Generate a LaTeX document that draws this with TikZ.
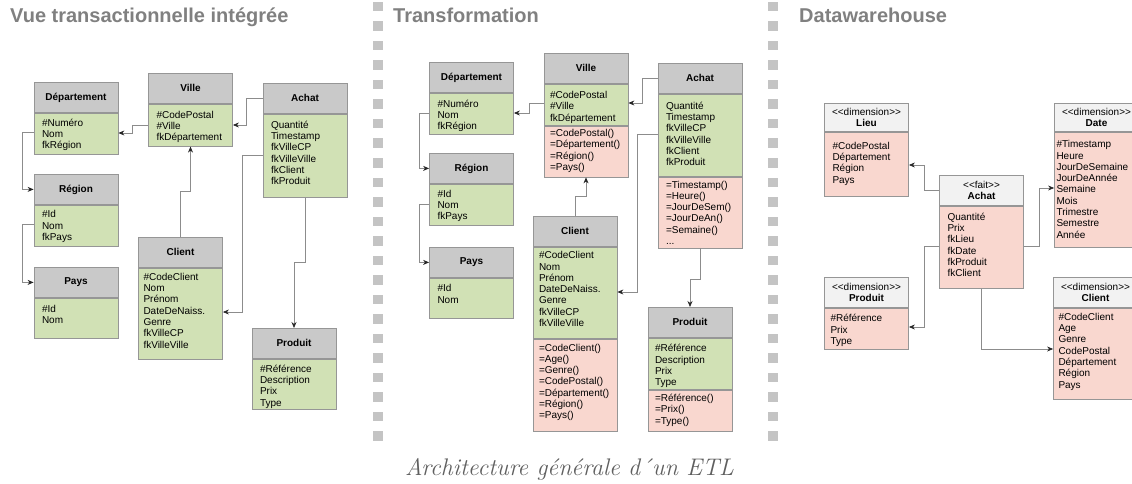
\documentclass[tikz,border=0pt]{standalone}
\usepackage{fontspec}
\newfontfamily\sansfam{Liberation Sans}
\usepackage{tikz}
\usetikzlibrary{arrows.meta, positioning}

\definecolor{hdrgray}{RGB}{201,201,201}
\definecolor{dimhead}{RGB}{242,242,242}
\definecolor{attrgreen}{RGB}{209,225,181}
\definecolor{methpink}{RGB}{249,215,207}
\definecolor{boxline}{RGB}{150,150,150}
\definecolor{linkgray}{RGB}{140,140,140}
\definecolor{sepgray}{RGB}{196,196,196}
\definecolor{titlegray}{RGB}{128,128,128}
\definecolor{captiongray}{RGB}{95,95,95}

\newcommand{\dimtag}[1]{<\kern0pt<#1>\kern0pt>}

\tikzset{
  hdr/.style={draw=boxline, line width=0.8pt, fill=hdrgray, anchor=north, minimum width=84pt, minimum height=30pt, inner sep=0pt, align=center, font=\sansfam\bfseries\fontsize{10}{12}\selectfont},
  dimhdr/.style={hdr, fill=dimhead, font=\sansfam\fontsize{10}{11.7}\selectfont},
  attr/.style={draw=boxline, line width=0.8pt, fill=attrgreen, anchor=north, minimum width=84pt, inner xsep=8pt, inner ysep=0pt, text width=68pt, align=left, text height=13pt, font=\sansfam\fontsize{10}{11.3}\selectfont},
  meth/.style={attr, fill=methpink, text height=11pt},
  link/.style={draw=linkgray, line width=0.7pt, -{Stealth[length=6pt, width=5pt, color=black!85]}},
  heading/.style={anchor=base west, inner sep=0pt, text=titlegray, font=\sansfam\bfseries\fontsize{20}{24}\selectfont},
}

\begin{document}
\begin{tikzpicture}[x=1pt, y=-1pt]
  % Page
  \useasboundingbox (0,0) rectangle (1132,484);
  \clip (0,0) rectangle (1132,484);

  % Separators
  \foreach \k in {0,...,22} {
    \fill[sepgray] (373.25,2+19.5*\k) rectangle ++(9.5,9.5);
    \fill[sepgray] (768.25,2+19.5*\k) rectangle ++(9.5,9.5);
  }

  % Titles
  \node[heading] (titleA) at (10,23) {Vue transactionnelle intégrée};
  \node[heading] (titleB) at (393,23) {Transformation};
  \node[heading] (titleC) at (799,23) {Datawarehouse};

  % Vue transactionnelle
  \node[hdr] (depLh) at (76,82) {Département};
  \node[attr, below=0pt of depLh, text depth=28pt] (depLb) {\#Numéro\\Nom\\fkRégion};
  \node[hdr] (villeLh) at (190.5,73) {Ville};
  \node[attr, below=0pt of villeLh, text height=14pt, text depth=28pt] (villeLb) {\#CodePostal\\\#Ville\\fkDépartement};
  \node[hdr] (achatLh) at (305,83) {Achat};
  \node[attr, below=0pt of achatLh, text height=14pt, text depth=69pt] (achatLb) {Quantité\\Timestamp\\fkVilleCP\\fkVilleVille\\fkClient\\fkProduit};
  \node[hdr] (regLh) at (76,174) {Région};
  \node[attr, below=0pt of regLh, text height=12.5pt, text depth=28.5pt] (regLb) {\#Id\\Nom\\fkPays};
  \node[hdr] (paysLh) at (76,267) {Pays};
  \node[attr, below=0pt of paysLh, text height=14pt, text depth=26pt] (paysLb) {\#Id\\Nom};
  \node[hdr] (cliLh) at (180.5,237) {Client};
  \node[attr, below=0pt of cliLh, inner xsep=5pt, text width=74pt, text height=12pt, text depth=79pt] (cliLb) {\#CodeClient\\Nom\\Prénom\\DateDeNaiss.\\Genre\\fkVilleCP\\fkVilleVille};
  \node[hdr] (prodLh) at (294,328) {Produit};
  \node[attr, below=0pt of prodLh, text height=13pt, text depth=37pt] (prodLb) {\#Référence\\Description\\Prix\\Type};

  \draw[link] (villeLb.west |- 0,125) -- ++(-16,0) |- (depLb.east |- 0,133);
  \draw[link] (achatLh.west) -- ++(-16,0) |- (villeLb.east |- 0,125);
  \draw[link] (depLb.west |- 0,132) -- ++(-11,0) |- (regLh.west);
  \draw[link] (regLb.west |- 0,224) -- ++(-11,0) |- (paysLh.west);
  \draw[link] (cliLh.north) -- ++(0,-46) -| (villeLb.south);
  \draw[link] (achatLb.west |- 0,155) -- ++(-20,0) |- (cliLb.east |- 0,312);
  \draw[link] (achatLb.south) -- ++(0,65) -| (prodLh.north);

  % Transformation
  \node[hdr] (depMh) at (471.5,62) {Département};
  \node[attr, below=0pt of depMh, text height=14pt, text depth=27pt] (depMb) {\#Numéro\\Nom\\fkRégion};
  \node[hdr] (villeMh) at (586,53) {Ville};
  \node[attr, below=0pt of villeMh, inner xsep=6pt, text width=72pt, text height=14.5pt, text depth=26.5pt] (villeMb) {\#CodePostal\\\#Ville\\fkDépartement};
  \node[meth, below=0pt of villeMb, inner xsep=6pt, text width=72pt, text height=10.5pt, text depth=40.5pt] (villeMp) {=CodePostal()\\=Département()\\=Région()\\=Pays()};
  \node[hdr] (achatMh) at (700,63) {Achat};
  \node[attr, below=0pt of achatMh, text height=15pt, text depth=67pt] (achatMb) {Quantité\\Timestamp\\fkVilleCP\\fkVilleVille\\fkClient\\fkProduit};
  \node[meth, below=0pt of achatMb, text height=11pt, text depth=60pt] (achatMp) {=Timestamp()\\=Heure()\\=JourDeSem()\\=JourDeAn()\\=Semaine()\\...};
  \node[hdr] (regMh) at (471.5,153) {Région};
  \node[attr, below=0pt of regMh, text height=13pt, text depth=28pt] (regMb) {\#Id\\Nom\\fkPays};
  \node[hdr] (paysMh) at (471.5,247) {Pays};
  \node[attr, below=0pt of paysMh, text height=13.5pt, text depth=26.5pt] (paysMb) {\#Id\\Nom};
  \node[hdr] (cliMh) at (575,216) {Client};
  \node[attr, below=0pt of cliMh, inner xsep=6pt, text width=72pt, text height=11.5pt, text depth=79.5pt] (cliMb) {\#CodeClient\\Nom\\Prénom\\DateDeNaiss.\\Genre\\fkVilleCP\\fkVilleVille};
  \node[meth, below=0pt of cliMb, inner xsep=6pt, text width=72pt, text height=12pt, text depth=80pt] (cliMp) {=CodeClient()\\=Age()\\=Genre()\\=CodePostal()\\=Département()\\=Région()\\=Pays()};
  \node[hdr] (prodMh) at (690,307) {Produit};
  \node[attr, below=0pt of prodMh, inner xsep=7pt, text width=70pt, text height=13.5pt, text depth=37.5pt] (prodMb) {\#Référence\\Description\\Prix\\Type};
  \node[meth, below=0pt of prodMb, inner xsep=7pt, text width=70pt, text height=11.5pt, text depth=29.5pt] (prodMp) {=Référence()\\=Prix()\\=Type()};

  \draw[link] (villeMb.west |- 0,103) -- ++(-14,0) |- (depMb.east |- 0,113);
  \draw[link] (achatMh.west) -- ++(-15,0) |- (villeMb.east |- 0,103);
  \draw[link] (depMb.west |- 0,113) -- ++(-10,0) |- (regMh.west);
  \draw[link] (regMb.west |- 0,204) -- ++(-10,0) |- (paysMh.west);
  \draw[link] (cliMh.north) -- ++(0,-20) -| (villeMp.south);
  \draw[link] (achatMb.west |- 0,134) -- ++(-20,0) |- (cliMb.east |- 0,292);
  \draw[link] (achatMp.south) -- ++(0,31) -| (prodMh.north);

  % Datawarehouse
  \node[dimhdr, minimum height=28pt] (lieuRh) at (866.5,103) {\dimtag{dimension}\\\textbf{Lieu}};
  \node[meth, below=0pt of lieuRh, text height=17pt, text depth=47pt] (lieuRb) {\#CodePostal\\Département\\Région\\Pays};
  \node[dimhdr] (achatRh) at (981.5,175) {\dimtag{fait}\\\textbf{Achat}};
  \node[meth, below=0pt of achatRh, text height=14pt, text depth=68pt] (achatRb) {Quantité\\Prix\\fkLieu\\fkDate\\fkProduit\\fkClient};
  \node[dimhdr, minimum height=28pt] (dateRh) at (1096.5,103) {\dimtag{dimension}\\\textbf{Date}};
  \node[meth, below=0pt of dateRh, inner xsep=2pt, text width=80pt, text height=15.5pt, text depth=99.5pt] (dateRb) {\#Timestamp\\Heure\\JourDeSemaine\\JourDeAnnée\\Semaine\\Mois\\Trimestre\\Semestre\\Année};
  \node[dimhdr] (prodRh) at (866.5,277) {\dimtag{dimension}\\\textbf{Produit}};
  \node[meth, below=0pt of prodRh, inner xsep=6pt, text width=72pt, text height=13.5pt, text depth=27.5pt] (prodRb) {\#Référence\\Prix\\Type};
  \node[dimhdr] (cliRh) at (1095.5,277) {\dimtag{dimension}\\\textbf{Client}};
  \node[meth, below=0pt of cliRh, inner xsep=5pt, text width=74pt, text height=12pt, text depth=79pt] (cliRb) {\#CodeClient\\Age\\Genre\\CodePostal\\Département\\Région\\Pays};

  \draw[link] (achatRh.west |- 0,190) -- ++(-15,0) |- (lieuRb.east |- 0,165);
  \draw[link] (achatRb.east |- 0,246) -- ++(15,0) |- (dateRb.west |- 0,188);
  \draw[link] (achatRb.west |- 0,246) -- ++(-15,0) |- (prodRb.east |- 0,327);
  \draw[link] (achatRb.south) |- (cliRb.west |- 0,349);

  % Caption
  \node[anchor=base, inner sep=0pt, text=captiongray, font=\itshape\fontsize{24}{28}\selectfont] (capt) at (569.5,475) {Architecture générale d´un ETL};
\end{tikzpicture}
\end{document}
